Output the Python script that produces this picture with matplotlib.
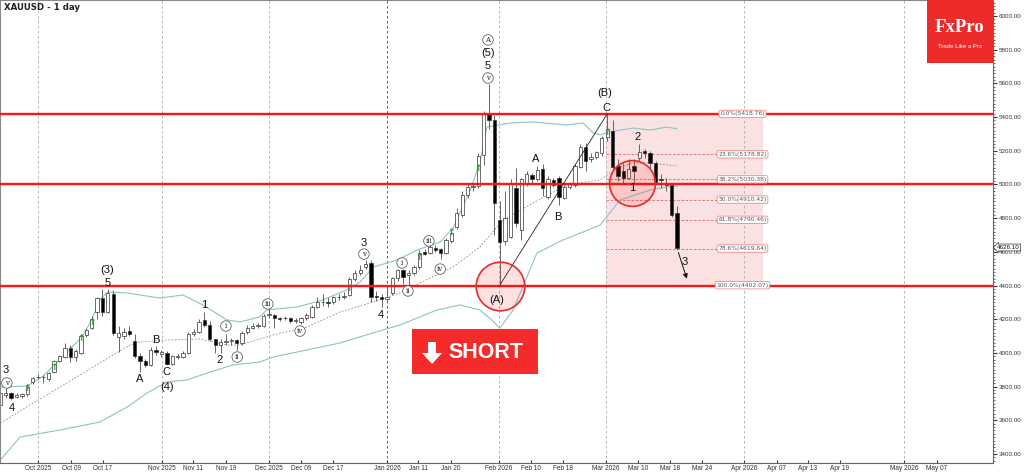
import matplotlib
matplotlib.use('Agg')
import matplotlib.pyplot as plt
from matplotlib.patches import Rectangle, Polygon
from matplotlib.ticker import MultipleLocator, FormatStrFormatter

plt.rcParams['font.family'] = ['Liberation Sans', 'DejaVu Sans']

# daily OHLC, XAUUSD, Sep 22 2025 .. Mar 19 2026
opens = [3690, 3748, 3765, 3740, 3742, 3755, 3825, 3855, 3860, 3845,
         3890, 3955, 3975, 4030, 3975, 4000, 4105, 4150, 4245, 4325,
         4245, 4350, 4095, 4100, 4130, 4070, 3985, 3955, 3930, 4015,
         3995, 4000, 3935, 3975, 3975, 4000, 4115, 4125, 4195, 4165,
         4080, 4050, 4065, 4070, 4075, 4060, 4125, 4150, 4160, 4160,
         4225, 4225, 4208, 4205, 4207, 4192, 4185, 4205, 4215, 4275,
         4300, 4300, 4300, 4330, 4332, 4345, 4440, 4475, 4510, 4535,
         4340, 4335, 4320, 4355, 4445, 4490, 4460, 4475, 4510, 4600,
         4595, 4625, 4615, 4595, 4665, 4745, 4820, 4935, 4985, 4990,
         5175, 5420, 5380, 4790, 4665, 4690, 4980, 4730, 5000, 5055,
         5030, 5090, 4925, 5025, 5040, 4920, 4985, 4995, 5105, 5225,
         5150, 5165, 5185, 5280, 5320, 5110, 5080, 5040, 5110, 5160,
         5200, 5185, 5130, 5030, 5000, 4995, 4830]
highs = [3775, 3790, 3770, 3760, 3765, 3815, 3860, 3875, 3870, 3890,
         3960, 3990, 4060, 4045, 4025, 4110, 4150, 4220, 4335, 4380,
         4380, 4375, 4160, 4150, 4160, 4110, 4000, 3965, 4035, 4040,
         4020, 4010, 3990, 3995, 4010, 4125, 4145, 4200, 4245, 4190,
         4085, 4085, 4110, 4090, 4085, 4130, 4165, 4175, 4180, 4230,
         4265, 4230, 4215, 4220, 4215, 4205, 4215, 4235, 4285, 4330,
         4350, 4330, 4340, 4350, 4360, 4450, 4490, 4525, 4550, 4550,
         4370, 4350, 4400, 4450, 4500, 4500, 4490, 4525, 4610, 4620,
         4645, 4640, 4625, 4680, 4725, 4860, 4960, 5000, 5010, 5185,
         5435, 5595, 5410, 4900, 4960, 5030, 5100, 5040, 5080, 5070,
         5110, 5120, 5050, 5040, 5050, 4995, 5015, 5120, 5240, 5245,
         5185, 5200, 5290, 5419, 5385, 5150, 5130, 5150, 5150, 5240,
         5210, 5200, 5140, 5060, 5040, 5010, 4870]
lows = [3680, 3730, 3720, 3735, 3730, 3745, 3815, 3845, 3820, 3835,
        3880, 3945, 3970, 3945, 3950, 3995, 4095, 4140, 4200, 4220,
        4235, 4105, 4005, 4080, 4100, 3970, 3885, 3915, 3920, 3990,
        3975, 3930, 3930, 3965, 3970, 3995, 4100, 4120, 4155, 4070,
        4000, 4000, 4050, 4050, 4020, 4050, 4110, 4140, 4150, 4155,
        4210, 4150, 4190, 4195, 4180, 4175, 4170, 4195, 4205, 4265,
        4280, 4270, 4290, 4315, 4320, 4340, 4430, 4465, 4500, 4305,
        4310, 4275, 4300, 4345, 4430, 4410, 4400, 4465, 4500, 4580,
        4585, 4600, 4560, 4585, 4650, 4735, 4810, 4920, 4960, 4980,
        5115, 5330, 4700, 4402, 4640, 4680, 4750, 4670, 4990, 5010,
        5020, 4930, 4915, 4985, 4880, 4915, 4975, 4985, 5095, 5080,
        5135, 5150, 5170, 5260, 5090, 5020, 5010, 5030, 5010, 5140,
        5160, 5100, 5000, 4980, 4960, 4805, 4610]
closes = [3765, 3765, 3735, 3748, 3757, 3800, 3850, 3860, 3855, 3880,
          3950, 3980, 4030, 3975, 4010, 4100, 4135, 4200, 4325, 4245,
          4355, 4120, 4120, 4125, 4115, 3985, 3955, 3930, 4020, 4005,
          4005, 3935, 3980, 3980, 4000, 4115, 4125, 4185, 4165, 4080,
          4050, 4065, 4070, 4075, 4062, 4120, 4150, 4160, 4165, 4220,
          4228, 4205, 4203, 4207, 4190, 4195, 4205, 4225, 4275, 4300,
          4305, 4298, 4330, 4332, 4335, 4440, 4475, 4495, 4530, 4330,
          4330, 4320, 4330, 4445, 4490, 4450, 4475, 4510, 4595, 4590,
          4630, 4610, 4595, 4670, 4715, 4830, 4935, 4985, 4990, 5170,
          5420, 5385, 4890, 4660, 4800, 5000, 4770, 5030, 5060, 5030,
          5085, 4980, 5035, 4995, 4925, 4985, 5000, 5110, 5225, 5140,
          5165, 5190, 5275, 5330, 5105, 5050, 5040, 5090, 5080, 5195,
          5185, 5125, 5015, 5025, 4995, 4820, 4626]
last_price = 4626.10

# Bollinger bands (bar index, price)
upper_idx = [0, 5, 8, 10, 12.4, 15.2, 17, 18.5, 20, 23.6, 29.7, 34, 37.7, 42.2, 44.6,
             48.3, 49.6, 55.2, 60, 64.5, 67, 69.4, 73.9, 77.6, 81.9, 84.3, 87.5, 89.3,
             90.6, 95, 99.2, 105.5, 108.5, 110.4, 111.7, 113.5, 117.8, 121, 124.1, 126]
upper_val = [3798, 3804, 3863, 3929, 4006, 4095, 4196, 4314, 4362, 4356, 4326, 4344,
             4285, 4196, 4184, 4214, 4255, 4273, 4314, 4374, 4421, 4510, 4552, 4611,
             4659, 4742, 4967, 5128, 5341, 5365, 5371, 5353, 5365, 5306, 5294, 5312,
             5335, 5323, 5341, 5330]
mid_idx = [0, 6.1, 12.4, 18.5, 24.1, 26, 31, 37.2, 42.2, 44.6, 50.8, 57.1, 63.2, 69.4,
           74.4, 78.1, 84.3, 89.3, 93.6, 99.2, 105.5, 111.7, 114.8, 117.8, 121, 124.1, 126]
mid_val = [3584, 3703, 3822, 3941, 4047, 4065, 4077, 4083, 4047, 4047, 4107, 4154, 4243,
           4303, 4356, 4415, 4510, 4629, 4789, 4890, 4997, 5027, 5098, 5128, 5128, 5116, 5110]
lower_idx = [0, 3.65, 11.1, 18.5, 23.6, 27.3, 31, 34.75, 38.5, 43.3, 48.3, 50.8, 57.1,
             63.2, 69.4, 74.4, 81.3, 85.6, 89.3, 91.5, 93, 95.5, 99.9, 104.8, 108.5,
             111.7, 115.4, 121, 124.1, 126]
lower_val = [3365, 3501, 3543, 3590, 3679, 3762, 3828, 3840, 3881, 3929, 3946, 3976, 4018,
             4059, 4119, 4166, 4255, 4285, 4255, 4196, 4148, 4255, 4593, 4671, 4718, 4760,
             4908, 4967, 4985, 4990]

tick_pos = [7.0, 13.15, 19.1, 30.09, 35.87, 42.0, 50.02, 55.98, 61.94, 71.99, 77.77, 83.9,
            92.85, 98.8, 104.77, 112.78, 118.73, 124.7, 130.65, 138.47, 144.6, 150.4,
            156.35, 168.27, 174.4]
tick_labels = ['Oct 2025', 'Oct 09', 'Oct 17', 'Nov 2025', 'Nov 11', 'Nov 19', 'Dec 2025',
               'Dec 09', 'Dec 17', 'Jan 2026', 'Jan 11', 'Jan 20', 'Feb 2026', 'Feb 10',
               'Feb 18', 'Mar 2026', 'Mar 10', 'Mar 18', 'Mar 24', 'Apr 2026', 'Apr 07',
               'Apr 13', 'Apr 19', 'May 2026', 'May 07']
month_starts = [7.0, 30.09, 50.02, 71.99, 92.85, 112.78, 138.47, 168.27]
year_start = 71.99

key_levels = [5418.76, 5000, 4400]
fib_labels = ['0.0%', '23.6%', '38.2%', '50.0%', '61.8%', '78.6%', '100.0%']
fib_values = [5418.76, 5178.82, 5030.38, 4910.42, 4790.46, 4619.64, 4402.07]
fib_start, fib_end = 112.78, 142.0

signal_idx = [5, 10, 15, 17, 65, 78, 84, 89, 113]
signal_val = [3792, 3911, 4083, 4178, 4380, 4564, 4718, 5092, 5306]

# (text, bar index, price, circled)
wave_labels = [
    ('3', 1.0, 3899, False), ('v', 1.2, 3822, True), ('4', 2.2, 3673, False),
    ('(3)', 19.9, 4493, False), ('5', 19.9, 4415, False),
    ('A', 26.0, 3846, False), ('B', 29.0, 4077, False), ('C', 31.0, 3887, False),
    ('(4)', 31.0, 3798, False), ('1', 37.9, 4285, False), ('2', 40.9, 3958, False),
    ('i', 42.0, 4160, True), ('ii', 44.1, 3976, True), ('iii', 49.8, 4291, True),
    ('iv', 55.8, 4130, True), ('3', 67.7, 4653, False), ('v', 67.7, 4587, True),
    ('4', 70.9, 4225, False), ('i', 74.8, 4534, True), ('ii', 75.9, 4368, True),
    ('iii', 79.8, 4665, True), ('iv', 81.9, 4498, True),
    ('A', 90.8, 5858, True), ('(5)', 90.8, 5780, False), ('5', 90.8, 5703, False),
    ('v', 90.8, 5632, True), ('(A)', 92.5, 4314, False),
    ('A', 99.7, 5151, False), ('B', 103.8, 4807, False),
    ('(B)', 112.6, 5543, False), ('C', 112.8, 5454, False),
    ('2', 118.7, 5282, False), ('1', 117.6, 4979, False), ('3', 127.5, 4540, False),
]

W, H = 1024, 474


def fp(x, y):
    return x / W, 1 - y / H


fig = plt.figure(figsize=(W / 100, H / 100), dpi=100)
ax = fig.add_axes([0.0, 11 / H, 993 / W, 462.5 / H])
ax.set_xlim(-0.075, 184.85)
ax.set_ylim(3347, 6092)

# fib box
ax.add_patch(Rectangle((fib_start, fib_values[-1]), fib_end - fib_start,
                       fib_values[0] - fib_values[-1], fc='#fbe2e2', ec='none', zorder=0.5))
for v in fib_values[1:-1]:
    ax.plot([fib_start, fib_end], [v, v], color='#e86060', lw=0.6, ls=(0, (3, 2)), zorder=0.7)

for m in month_starts:
    ax.axvline(m, color='#444' if m == year_start else '#aaa', lw=0.6,
               ls=(0, (3, 3)), zorder=0.6)

ax.plot(upper_idx, upper_val, color='#8cc3c3', lw=0.8, zorder=1)
ax.plot(lower_idx, lower_val, color='#8cc3c3', lw=0.8, zorder=1)
ax.plot(mid_idx, mid_val, color='#8a8a8a', lw=0.6, ls=(0, (2, 2)), zorder=1)

# candles
idx = list(range(len(opens)))
ax.vlines(idx, lows, highs, color='#666', lw=0.7, zorder=2)
for i in idx:
    o, c = opens[i], closes[i]
    bull = c >= o
    h = max(abs(c - o), 4)
    ax.bar(i, h, bottom=min(o, c), width=0.62,
           color='white' if bull else 'black', edgecolor='#333', lw=0.5, zorder=2.5)

for i, v in zip(signal_idx, signal_val):
    ax.text(i, v, '↑', color='#1e9e1e', fontsize=6.5, fontweight='bold',
            ha='center', va='center', family='DejaVu Sans', zorder=3)

for lv in key_levels:
    ax.axhline(lv, color='#ff1515', lw=1.7, zorder=3.5)

for lab, v in zip(fib_labels, fib_values):
    ax.text(138.2, v, f'{lab}({v:.2f})', fontsize=4.3, color='#555', ha='center', va='center',
            family='DejaVu Sans', zorder=5,
            bbox=dict(boxstyle='round,pad=0.2,rounding_size=0.3', fc='white', ec='#e88', lw=0.6))

# wave structure
ax.plot([93, 113], [4402.07, 5418.76], color='#222', lw=0.6, zorder=4)
ax.plot([93.0], [4395], 'o', ms=35, mfc=(1, 0, 0, 0.12), mec='#e52b2b', mew=1.2, zorder=4)
ax.plot([117.7], [5006], 'o', ms=33, mfc=(1, 0, 0, 0.12), mec='#e52b2b', mew=1.2, zorder=4)
ax.annotate('', xy=(128.0, 4425), xytext=(126.1, 4612),
            arrowprops=dict(arrowstyle='-|>', color='#111', lw=0.7, mutation_scale=7), zorder=4)

for txt, x, y, circ in wave_labels:
    if circ:
        ax.text(x, y, txt, fontsize=5, family='DejaVu Serif', ha='center', va='center',
                color='#222', zorder=5,
                bbox=dict(boxstyle='circle,pad=0.18', fc='white', ec='#444', lw=0.5))
    else:
        ax.text(x, y, txt, fontsize=8, ha='center', va='center', color='#111', zorder=5)

# axes styling
ax.yaxis.tick_right()
ax.set_yticks(range(3400, 6001, 200))
ax.yaxis.set_major_formatter(FormatStrFormatter('%.2f'))
ax.yaxis.set_minor_locator(MultipleLocator(20))
ax.tick_params(axis='y', which='major', labelsize=4.5, length=3, pad=1.2, colors='#333')
ax.tick_params(axis='y', which='minor', length=1.5, color='#555')
ax.set_xticks(tick_pos)
ax.set_xticklabels(tick_labels)
ax.tick_params(axis='x', labelsize=4.7, length=2.5, direction='in', pad=1.8, colors='#333')
for s in ['left', 'top']:
    ax.spines[s].set_color('#888')
for s in ['right', 'bottom']:
    ax.spines[s].set_color('#666')
for s in ax.spines.values():
    s.set_linewidth(0.8)

ax.text(1.004, last_price, f'{last_price:.2f}', transform=ax.get_yaxis_transform(),
        fontsize=4.5, va='center', ha='left', color='#111', zorder=6, clip_on=False,
        bbox=dict(boxstyle='larrow,pad=0.15', fc='white', ec='#333', lw=0.5))

fig.text(*fp(4, 7), 'XAUUSD - 1 day', fontsize=6.2, fontweight='bold', color='#222',
         va='center', ha='left', family='DejaVu Sans')

# logo
fig.add_artist(Rectangle(fp(927, 63), 66 / W, 63 / H, transform=fig.transFigure,
                         fc='#ee2b2b', ec='none', zorder=5))
fig.text(*fp(960, 28), 'FxPro', fontsize=13.5, color='white', fontweight='bold',
         family='Liberation Serif', ha='center', va='center', zorder=6)
fig.text(*fp(960, 46), 'Trade Like a Pro', fontsize=4.3, color='white',
         ha='center', va='center', zorder=6)

# SHORT badge
fig.add_artist(Rectangle(fp(412, 374), 126 / W, 45 / H, transform=fig.transFigure,
                         fc='#f32b2b', ec='none', zorder=5))
arrow_px = [(428, 342), (436, 342), (436, 353), (442, 353), (432, 364), (422, 353), (428, 353)]
fig.add_artist(Polygon([fp(x, y) for x, y in arrow_px], closed=True,
                       transform=fig.transFigure, fc='white', ec='none', zorder=6))
fig.text(*fp(486, 352), 'SHORT', fontsize=15.5, color='white', fontweight='bold',
         ha='center', va='center', zorder=6)

fig.savefig('out.png', dpi=100)
